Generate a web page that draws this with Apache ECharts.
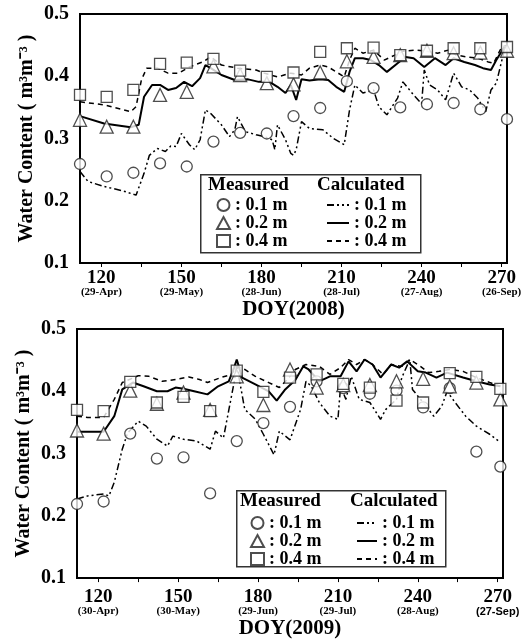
<!DOCTYPE html>
<html lang="en">
<head>
<meta charset="UTF-8">
<title>Water Content</title>
<style>html,body{margin:0;padding:0;background:#fff}</style>
</head>
<body>
<div id="main" style="width:531px;height:640px"></div>
<script src="https://cdn.jsdelivr.net/npm/echarts@6/dist/echarts.min.js"></script>
<script>
var SERIF = "'Liberation Serif', 'Times New Roman', serif";

// x axis ticks / labels
var tickDays = [120, 135, 150, 165, 180, 195, 210, 225, 240, 255, 270];
var labelDays = [120, 150, 180, 210, 240, 270];
var dates08 = ['(29-Apr)', '(29-May)', '(28-Jun)', '(28-Jul)', '(27-Aug)', '(26-Sep)'];
var dates09 = ['(30-Apr)', '(30-May)', '(29-Jun)', '(29-Jul)', '(28-Aug)', '(27-Sep)'];

// measured, 2008
var days08 = [112, 122, 132, 142, 152, 162, 172, 182, 192, 202, 212, 222, 232, 242, 252, 262, 272];
var meas08_01 = [0.259, 0.239, 0.245, 0.260, 0.255, 0.295, 0.309, 0.308, 0.336, 0.349, 0.392, 0.381, 0.350, 0.355, 0.357, 0.347, 0.331];
var meas08_02 = [0.330, 0.319, 0.319, 0.370, 0.375, 0.416, 0.402, 0.389, 0.387, 0.406, 0.424, 0.431, 0.434, 0.441, 0.437, 0.438, 0.441];
var meas08_04 = [0.370, 0.367, 0.378, 0.420, 0.422, 0.428, 0.409, 0.399, 0.406, 0.439, 0.445, 0.446, 0.434, 0.441, 0.445, 0.445, 0.447];

// calculated, 2008  [DOY, value]
var calc08_01 = [[112,0.247],[115,0.231],[121,0.223],[128,0.216],[133,0.209],[136,0.244],[138,0.273],[141,0.284],[144,0.279],[146,0.288],[148,0.287],[150,0.308],[153,0.290],[155,0.282],[157,0.298],[159,0.346],[161,0.340],[165,0.322],[168,0.303],[170,0.314],[171,0.335],[174,0.311],[178,0.306],[181,0.303],[184,0.298],[185,0.282],[186,0.322],[189,0.298],[191,0.276],[192,0.273],[193,0.282],[195,0.327],[198,0.316],[203,0.314],[207,0.300],[211,0.290],[213,0.346],[215,0.386],[218,0.373],[222,0.378],[224,0.351],[227,0.338],[231,0.365],[233,0.391],[237,0.370],[240,0.356],[241,0.410],[243,0.386],[246,0.378],[249,0.362],[252,0.405],[255,0.383],[258,0.378],[261,0.365],[264,0.343],[266,0.378],[268,0.389],[271,0.442]];
var calc08_02 = [[112,0.336],[121,0.324],[131,0.318],[134,0.322],[136,0.367],[139,0.386],[142,0.386],[145,0.378],[148,0.381],[151,0.391],[154,0.384],[157,0.397],[159,0.418],[161,0.413],[165,0.402],[170,0.394],[175,0.395],[179,0.391],[183,0.391],[186,0.383],[189,0.373],[191,0.386],[193,0.362],[195,0.395],[198,0.393],[202,0.395],[205,0.394],[208,0.383],[211,0.375],[213,0.407],[215,0.429],[218,0.429],[221,0.426],[224,0.418],[227,0.407],[231,0.421],[234,0.431],[237,0.429],[241,0.415],[245,0.429],[249,0.418],[252,0.429],[256,0.423],[260,0.418],[263,0.413],[266,0.410],[268,0.426],[271,0.447]];
var calc08_04 = [[112,0.359],[121,0.354],[131,0.343],[133,0.351],[135,0.394],[137,0.413],[141,0.413],[145,0.405],[149,0.405],[153,0.415],[158,0.423],[161,0.431],[165,0.418],[171,0.413],[178,0.410],[181,0.405],[186,0.399],[191,0.405],[195,0.402],[198,0.413],[202,0.418],[205,0.415],[208,0.407],[211,0.399],[213,0.426],[215,0.445],[218,0.437],[222,0.442],[226,0.426],[230,0.434],[233,0.440],[238,0.442],[242,0.440],[246,0.437],[250,0.442],[253,0.434],[257,0.431],[261,0.429],[265,0.423],[267,0.421],[270,0.447],[272,0.450]];

// measured, 2009
var days09 = [112, 122, 132, 142, 152, 162, 172, 182, 192, 202, 212, 222, 232, 242, 252, 262, 271];
var meas09_01 = [0.219, 0.223, 0.332, 0.292, 0.294, 0.236, 0.320, 0.349, 0.375, 0.416, 0.405, 0.396, 0.401, 0.374, 0.405, 0.303, 0.279];
var meas09_02 = [0.337, 0.332, 0.401, 0.380, 0.398, 0.370, 0.424, 0.378, 0.435, 0.406, 0.410, 0.410, 0.416, 0.420, 0.408, 0.414, 0.387];
var meas09_04 = [0.370, 0.368, 0.415, 0.382, 0.391, 0.368, 0.433, 0.399, 0.422, 0.427, 0.412, 0.406, 0.385, 0.382, 0.429, 0.423, 0.404];

// calculated, 2009
var calc09_01 = [[112,0.227],[116,0.232],[122,0.235],[124,0.232],[126,0.254],[129,0.307],[131,0.333],[135,0.352],[138,0.344],[142,0.323],[146,0.312],[148,0.328],[152,0.323],[157,0.320],[162,0.307],[164,0.336],[167,0.325],[171,0.414],[172,0.442],[175,0.371],[179,0.355],[182,0.331],[186,0.298],[188,0.336],[192,0.322],[196,0.371],[198,0.416],[200,0.408],[203,0.382],[207,0.360],[210,0.355],[211,0.408],[213,0.387],[215,0.424],[218,0.387],[222,0.382],[226,0.355],[228,0.371],[232,0.387],[234,0.422],[237,0.451],[238,0.403],[242,0.382],[246,0.360],[249,0.376],[251,0.400],[254,0.382],[258,0.360],[262,0.344],[267,0.331],[271,0.318]];
var calc09_02 = [[112,0.335],[122,0.335],[126,0.360],[129,0.403],[133,0.414],[137,0.408],[142,0.400],[146,0.400],[149,0.406],[152,0.404],[156,0.400],[161,0.395],[165,0.408],[169,0.416],[171,0.438],[172,0.451],[174,0.422],[179,0.411],[184,0.400],[187,0.385],[190,0.402],[194,0.418],[197,0.440],[199,0.435],[203,0.416],[207,0.424],[211,0.424],[214,0.448],[217,0.432],[220,0.451],[223,0.443],[226,0.422],[230,0.443],[233,0.438],[236,0.448],[240,0.432],[243,0.430],[247,0.422],[251,0.430],[257,0.422],[262,0.416],[267,0.411],[271,0.408]];
var calc09_04 = [[112,0.360],[116,0.358],[122,0.358],[126,0.387],[129,0.414],[135,0.425],[139,0.424],[144,0.416],[149,0.419],[154,0.423],[158,0.419],[161,0.414],[166,0.422],[170,0.427],[172,0.440],[175,0.435],[179,0.424],[184,0.414],[188,0.406],[191,0.419],[194,0.435],[198,0.443],[203,0.440],[207,0.427],[211,0.438],[214,0.451],[217,0.443],[220,0.451],[223,0.443],[227,0.427],[230,0.443],[234,0.440],[237,0.451],[241,0.440],[244,0.430],[248,0.432],[252,0.435],[257,0.432],[262,0.422],[267,0.414],[271,0.408]];

var chart = echarts.init(document.getElementById('main'));

function zip(days, vals) {
    return days.map(function (d, i) { return [d, vals[i]]; });
}

function measured(name, idx, days, vals, symbol, size) {
    return {
        name: name, type: 'scatter', xAxisIndex: idx, yAxisIndex: idx,
        data: zip(days, vals), symbol: symbol, symbolSize: size,
        itemStyle: {color: '#fff', borderColor: '#222', borderWidth: 1.3},
        z: 5
    };
}

// itemStyle transparent so the legend icon shows only the line sample
function calculated(name, idx, data, dash, width) {
    return {
        name: name, type: 'line', xAxisIndex: idx, yAxisIndex: idx,
        data: data, symbol: 'none',
        itemStyle: {color: 'rgba(0,0,0,0)', borderWidth: 0},
        lineStyle: {color: '#000', width: width, type: dash},
        z: 3
    };
}

var dashDotDot = [7, 3, 2, 3, 2, 3];
var dashed = [5, 4];

function xAxis(idx, dates, margin, nameGap, year) {
    return {
        type: 'value', gridIndex: idx, min: 112, max: 272,
        name: 'DOY(' + year + ')', nameLocation: 'middle', nameGap: nameGap,
        nameTextStyle: {fontFamily: SERIF, fontWeight: 'bold', fontSize: 21, color: '#000'},
        axisLine: {lineStyle: {color: '#000', width: 2}},
        axisTick: {show: true, length: 4, customValues: tickDays, lineStyle: {color: '#000', width: 1}},
        splitLine: {show: false},
        axisLabel: {
            customValues: labelDays, margin: margin,
            formatter: function (v) {
                var i = labelDays.indexOf(v);
                var dStyle = (year === 2009 && v === 270) ? 's' : 'd';
                return '{n|' + v + '}\n{' + dStyle + '|' + dates[i] + '}';
            },
            rich: {
                n: {fontFamily: SERIF, fontWeight: 'bold', fontSize: 19, color: '#000', lineHeight: 18},
                d: {fontFamily: SERIF, fontWeight: 'bold', fontSize: 11, color: '#000', lineHeight: 11},
                s: {fontFamily: "'Liberation Sans', Arial, sans-serif", fontWeight: 'bold', fontSize: 11, color: '#000', lineHeight: 11}
            }
        }
    };
}

function yAxis(idx) {
    return {
        type: 'value', gridIndex: idx, min: 0.1, max: 0.5, interval: 0.1,
        name: 'Water Content ( m\u00b3m\u207b\u00b3 )', nameLocation: 'middle', nameGap: 43,
        nameMoveOverlap: false,
        nameTextStyle: {fontFamily: SERIF, fontWeight: 'bold', fontSize: 20, color: '#000'},
        axisLine: {show: true, lineStyle: {color: '#000', width: 2}},
        axisTick: {show: false},
        splitLine: {show: false},
        axisLabel: {
            margin: 11, color: '#000', fontFamily: SERIF, fontWeight: 'bold', fontSize: 20,
            formatter: function (v) { return v.toFixed(1); }
        }
    };
}

var legendText = {fontFamily: SERIF, fontWeight: 'bold', fontSize: 18, color: '#000', lineHeight: 18};
function legendName(name) { return ': ' + name.split('|')[1] + ' m'; }

function legend(names, left, top, w, h, rowH) {
    return {
        data: names, orient: 'vertical', left: left, top: top, padding: 0,
        itemWidth: w, itemHeight: h, itemGap: 0, selectedMode: false,
        textStyle: Object.assign({}, legendText, {lineHeight: rowH}), formatter: legendName
    };
}

var headerStyle = {fontFamily: SERIF, fontWeight: 'bold', fontSize: 19, fill: '#000'};

var option = {
    animation: false,
    backgroundColor: '#fff',
    grid: [
        {left: 80, top: 14, width: 427, height: 249, show: true, borderColor: '#000', borderWidth: 2},
        {left: 77, top: 329, width: 426, height: 250, show: true, borderColor: '#000', borderWidth: 2}
    ],
    xAxis: [xAxis(0, dates08, 6, 23, 2008), xAxis(1, dates09, 10, 31, 2009)],
    yAxis: [yAxis(0), yAxis(1)],
    legend: [
        legend(['m08|0.1', 'm08|0.2', 'm08|0.4'], 216, 196, 13, 12, 18),
        legend(['c08|0.1', 'c08|0.2', 'c08|0.4'], 326, 196, 22, 10, 18),
        legend(['m09|0.1', 'm09|0.2', 'm09|0.4'], 250, 514, 13, 12, 17),
        legend(['c09|0.1', 'c09|0.2', 'c09|0.4'], 356, 514, 20, 10, 17)
    ],
    graphic: [
        {type: 'rect', left: 200, top: 174, shape: {width: 220, height: 78}, style: {fill: '#fff', stroke: '#333', lineWidth: 1.5}, z: 1},
        {type: 'text', left: 208, top: 176, style: Object.assign({text: 'Measured'}, headerStyle), z: 2},
        {type: 'text', left: 317, top: 176, style: Object.assign({text: 'Calculated'}, headerStyle), z: 2},
        {type: 'rect', left: 236, top: 490, shape: {width: 209, height: 76}, style: {fill: '#fff', stroke: '#333', lineWidth: 1.5}, z: 1},
        {type: 'text', left: 240, top: 492, style: Object.assign({text: 'Measured'}, headerStyle), z: 2},
        {type: 'text', left: 350, top: 492, style: Object.assign({text: 'Calculated'}, headerStyle), z: 2}
    ],
    series: [
        calculated('c08|0.1', 0, calc08_01, dashDotDot, 1.5),
        calculated('c08|0.2', 0, calc08_02, 'solid', 2),
        calculated('c08|0.4', 0, calc08_04, dashed, 1.5),
        measured('m08|0.1', 0, days08, meas08_01, 'circle', 11),
        measured('m08|0.2', 0, days08, meas08_02, 'triangle', 13),
        measured('m08|0.4', 0, days08, meas08_04, 'rect', 11),
        calculated('c09|0.1', 1, calc09_01, dashDotDot, 1.5),
        calculated('c09|0.2', 1, calc09_02, 'solid', 2),
        calculated('c09|0.4', 1, calc09_04, dashed, 1.5),
        measured('m09|0.1', 1, days09, meas09_01, 'circle', 11),
        measured('m09|0.2', 1, days09, meas09_02, 'triangle', 13),
        measured('m09|0.4', 1, days09, meas09_04, 'rect', 11)
    ]
};

chart.setOption(option);
</script>
</body>
</html>
